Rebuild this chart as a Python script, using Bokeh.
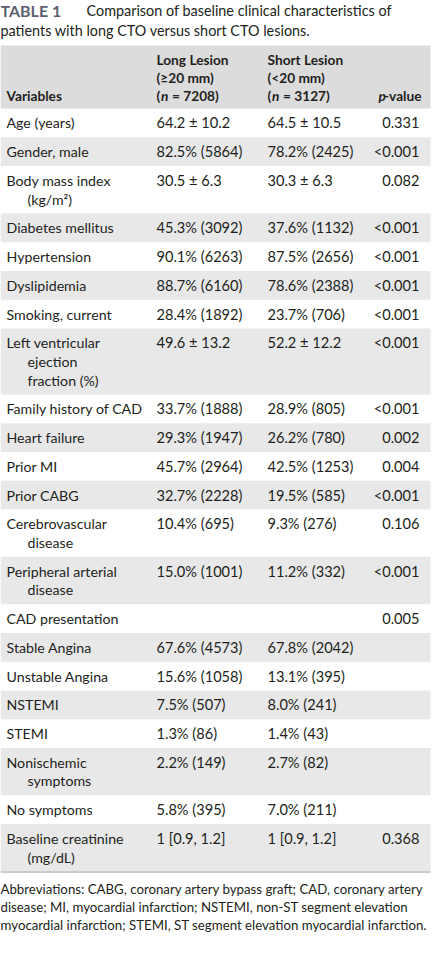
from bokeh.plotting import figure
from bokeh.models import Range1d, ColumnDataSource
from bokeh.embed import file_html
from bokeh.resources import INLINE
from bokeh.core.properties import value

# ---------------- data ----------------
table_label = "TABLE 1"
title_lines = ["Comparison of baseline clinical characteristics of",
               "patients with long CTO versus short CTO lesions."]
col_var = "Variables"
col_long = ["Long Lesion", "(\u226520 mm)"]
col_long_n = "7208"
col_short = ["Short Lesion", "(<20 mm)"]
col_short_n = "3127"
col_p = "-value"

variables = [
    ["Age (years)"],
    ["Gender, male"],
    ["Body mass index", "(kg/m\u00b2)"],
    ["Diabetes mellitus"],
    ["Hypertension"],
    ["Dyslipidemia"],
    ["Smoking, current"],
    ["Left ventricular", "ejection", "fraction (%)"],
    ["Family history of CAD"],
    ["Heart failure"],
    ["Prior MI"],
    ["Prior CABG"],
    ["Cerebrovascular", "disease"],
    ["Peripheral arterial", "disease"],
    ["CAD presentation"],
    ["Stable Angina"],
    ["Unstable Angina"],
    ["NSTEMI"],
    ["STEMI"],
    ["Nonischemic", "symptoms"],
    ["No symptoms"],
    ["Baseline creatinine", "(mg/dL)"],
]
long_lesion = ["64.2 \u00b1 10.2", "82.5% (5864)", "30.5 \u00b1 6.3", "45.3% (3092)",
               "90.1% (6263)", "88.7% (6160)", "28.4% (1892)", "49.6 \u00b1 13.2",
               "33.7% (1888)", "29.3% (1947)", "45.7% (2964)", "32.7% (2228)",
               "10.4% (695)", "15.0% (1001)", "", "67.6% (4573)", "15.6% (1058)",
               "7.5% (507)", "1.3% (86)", "2.2% (149)", "5.8% (395)", "1 [0.9, 1.2]"]
short_lesion = ["64.5 \u00b1 10.5", "78.2% (2425)", "30.3 \u00b1 6.3", "37.6% (1132)",
                "87.5% (2656)", "78.6% (2388)", "23.7% (706)", "52.2 \u00b1 12.2",
                "28.9% (805)", "26.2% (780)", "42.5% (1253)", "19.5% (585)",
                "9.3% (276)", "11.2% (332)", "", "67.8% (2042)", "13.1% (395)",
                "8.0% (241)", "1.4% (43)", "2.7% (82)", "7.0% (211)", "1 [0.9, 1.2]"]
p_values = ["0.331", "<0.001", "0.082", "<0.001", "<0.001", "<0.001", "<0.001",
            "<0.001", "<0.001", "0.002", "0.004", "<0.001", "0.106", "<0.001",
            "0.005", "", "", "", "", "", "", "0.368"]
footnote = ["Abbreviations: CABG, coronary artery bypass graft; CAD, coronary artery",
            "disease; MI, myocardial infarction; NSTEMI, non-ST segment elevation",
            "myocardial infarction; STEMI, ST segment elevation myocardial infarction."]

# ---------------- layout ----------------
FONT = value("Lato")
FS = "14.2px"
FSV = "14.6px"
FSH = "13.7px"
INK = "#231f20"
X_L, X_R = 6, 436
X_VAR, X_IND, X_LONG, X_SHORT, X_P = 12, 33, 162, 273, 425
HEAD_TOP, HEAD_BOT = 53, 116
ROW_H, LINE_H = 28.76, 18.6

p = figure(width=432, height=944, x_range=Range1d(6, 438), y_range=Range1d(952, 8),
           output_backend="svg", toolbar_location=None, min_border=0)
p.axis.visible = False
p.grid.visible = False
p.outline_line_color = None
p.background_fill_color = "white"
p.border_fill_color = "white"

# header band
p.quad(left=[X_L], right=[X_R], top=[HEAD_TOP], bottom=[HEAD_BOT],
       fill_color="#dcdcdd", line_color=None)

# row bands (alternating)
tops, bots = [], []
y = HEAD_BOT
for lines in variables:
    h = ROW_H + LINE_H * (len(lines) - 1)
    tops.append(y)
    bots.append(y + h)
    y += h
stripe = ColumnDataSource(dict(top=[t for i, t in enumerate(tops) if i % 2 == 1],
                               bottom=[b for i, b in enumerate(bots) if i % 2 == 1]))
p.quad(left=X_L, right=X_R, top="top", bottom="bottom", source=stripe,
       fill_color="#e8e8e9", line_color=None)
p.segment(x0=[X_L], x1=[X_R], y0=[bots[-1] + 0.7], y1=[bots[-1] + 0.7],
          line_color="#bdbdbd", line_width=1.5)

def txt(xs, ys, texts, align="left", style="normal", color=INK, size=FS):
    src = ColumnDataSource(dict(x=xs, y=ys, t=texts))
    p.text(x="x", y="y", text="t", source=src, text_font=FONT, text_font_size=size,
           text_font_style=style, text_color=color, text_align=align,
           text_baseline="middle")

# title
txt([6], [18], [table_label], style="bold", color="#5b6170", size="16px")
txt([92], [18], [title_lines[0]], size="14.4px")
txt([6], [38], [title_lines[1]], size="14.4px")

# header
txt([X_LONG, X_LONG, X_SHORT, X_SHORT], [67, 85, 67, 85],
    [col_long[0], col_long[1], col_short[0], col_short[1]], style="bold", size=FSH)
txt([X_VAR], [103], [col_var], style="bold", size=FSH)
for x0, n in [(X_LONG, col_long_n), (X_SHORT, col_short_n)]:
    txt([x0], [103], ["("], style="bold", size=FSH)
    txt([x0 + 4.5], [103], ["n"], style="bold italic", size=FSH)
    txt([x0 + 15.5], [103], ["= " + n + ")"], style="bold", size=FSH)
txt([384], [103], ["p"], style="bold italic", size=FSH)
txt([389.5], [103], [col_p], style="bold", size=FSH)

# body
vx, vy, vt = [], [], []
for i, lines in enumerate(variables):
    for j, s in enumerate(lines):
        vx.append(X_VAR if j == 0 else X_IND)
        vy.append(tops[i] + 14.4 + LINE_H * j)
        vt.append(s)
txt(vx, vy, vt)
first_y = [t + 14.4 for t in tops]
txt([X_LONG] * len(long_lesion), first_y, long_lesion, size=FSV)
txt([X_SHORT] * len(short_lesion), first_y, short_lesion, size=FSV)
txt([X_P] * len(p_values), first_y, p_values, align="right", size=FSV)

# footnote
fy0 = bots[-1] + 18
txt([6] * len(footnote), [fy0 + 18 * k for k in range(len(footnote))], footnote,
    size="13.25px")

open("out.html", "w").write(file_html(p, INLINE))
